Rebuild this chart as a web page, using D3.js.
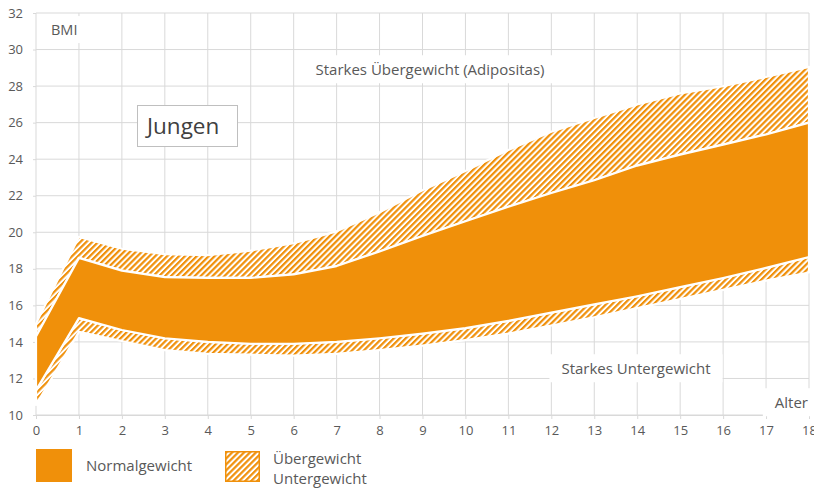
<!DOCTYPE html>
<html>
<head>
<meta charset="utf-8">
<script src="https://cdn.jsdelivr.net/npm/d3@7"></script>
<style>
  body { margin: 0; background: #fff; }
  svg { display: block; }
  text { font-family: 'Open Sans', 'Noto Sans', sans-serif; fill: #595959; }
</style>
</head>
<body>
<svg id="chart" width="814" height="488"></svg>
<script>
// BMI Perzentilen, Jungen 0-18 Jahre
const ages = [0, 1, 2, 3, 4, 5, 6, 7, 8, 9, 10, 11, 12, 13, 14, 15, 16, 17, 18];
const p3 = [10.55, 14.55, 14.05, 13.55, 13.35, 13.3, 13.25, 13.35, 13.55, 13.8, 14.1, 14.45, 14.9, 15.35, 15.85, 16.35, 16.85, 17.35, 17.8];
const p10 = [11.35, 15.3, 14.65, 14.2, 14.0, 13.9, 13.9, 14.0, 14.2, 14.45, 14.75, 15.15, 15.6, 16.05, 16.5, 17.0, 17.5, 18.05, 18.65];
const p90 = [14.3, 18.6, 17.9, 17.55, 17.5, 17.5, 17.7, 18.15, 18.95, 19.8, 20.6, 21.4, 22.15, 22.85, 23.65, 24.25, 24.8, 25.35, 26.0];
const p97 = [15.0, 19.75, 19.1, 18.8, 18.75, 19.0, 19.4, 20.05, 21.1, 22.3, 23.35, 24.5, 25.5, 26.25, 27.0, 27.6, 28.0, 28.5, 29.05];
const yTicks = [10, 12, 14, 16, 18, 20, 22, 24, 26, 28, 30, 32];

const orange = '#f0900a';
const grid = '#d9d9d9';

const svg = d3.select('#chart');
const x = d3.scaleLinear().domain([0, 18]).range([36, 809]);
const y = d3.scaleLinear().domain([10, 32]).range([415, 13]);

// hatch pattern
const hs = 4.2;
const defs = svg.append('defs');
const pat = defs.append('pattern')
  .attr('id', 'hatch')
  .attr('patternUnits', 'userSpaceOnUse')
  .attr('width', hs)
  .attr('height', hs)
  .attr('patternTransform', 'rotate(45)');
pat.append('rect').attr('width', hs).attr('height', hs).attr('fill', '#fff');
pat.append('line')
  .attr('x1', 1.1).attr('y1', 0).attr('x2', 1.1).attr('y2', hs)
  .attr('stroke', orange).attr('stroke-width', 2.2);

// gridlines
const gGrid = svg.append('g');
gGrid.selectAll('line.v')
  .data(ages)
  .join('line')
  .attr('class', 'v')
  .attr('x1', (d) => x(d)).attr('x2', (d) => x(d))
  .attr('y1', y(32)).attr('y2', y(10))
  .attr('stroke', grid);
gGrid.selectAll('line.h')
  .data(yTicks)
  .join('line')
  .attr('class', 'h')
  .attr('x1', x(0)).attr('x2', x(18))
  .attr('y1', (d) => y(d)).attr('y2', (d) => y(d))
  .attr('stroke', grid);

// axes
const xAxis = svg.append('g')
  .attr('transform', `translate(0,${y(10)})`)
  .call(d3.axisBottom(x).tickValues(ages).tickSize(4).tickPadding(7));
const yAxis = svg.append('g')
  .attr('transform', `translate(${x(0)},0)`)
  .call(d3.axisLeft(y).tickValues(yTicks).tickSize(3).tickPadding(10));
[xAxis, yAxis].forEach((a) => {
  a.select('.domain').attr('stroke', grid);
  a.selectAll('.tick line').attr('stroke', grid);
  a.selectAll('.tick text')
    .attr('fill', '#595959')
    .style('font-size', '13px')
    .style('font-family', "'Open Sans', sans-serif");
});
yAxis.select('.domain').remove();

// bands
const band = (lo, hi) =>
  d3.area()
    .x((d, i) => x(ages[i]))
    .y0((d, i) => y(lo[i]))
    .y1((d, i) => y(hi[i]));

const bands = [
  { lo: p3, hi: p10, fill: 'url(#hatch)' },
  { lo: p90, hi: p97, fill: 'url(#hatch)' },
  { lo: p10, hi: p90, fill: orange },
];
bands.forEach((b) => {
  svg.append('path')
    .datum(ages)
    .attr('d', band(b.lo, b.hi))
    .attr('fill', b.fill)
    .attr('stroke', '#fff')
    .attr('stroke-width', 2.2)
    .attr('stroke-linejoin', 'round');
});

// labels with white background
function boxLabel(txt, cx, cy, anchor, size) {
  const g = svg.append('g');
  const t = g.append('text')
    .attr('x', cx).attr('y', cy)
    .attr('dy', '0.35em')
    .attr('text-anchor', anchor)
    .style('font-size', size + 'px')
    .text(txt);
  const bb = t.node().getBBox();
  g.insert('rect', 'text')
    .attr('x', bb.x - 12).attr('y', bb.y - 4)
    .attr('width', bb.width + 24).attr('height', bb.height + 8)
    .attr('fill', '#fff');
}
boxLabel('BMI', 51, 30, 'start', 14.5);
boxLabel('Starkes Übergewicht (Adipositas)', 430, 70, 'middle', 15);
boxLabel('Starkes Untergewicht', 636, 369, 'middle', 15);
boxLabel('Alter', 808, 403, 'end', 15);

// Jungen box
svg.append('rect')
  .attr('x', 137.5).attr('y', 105.5)
  .attr('width', 100).attr('height', 41)
  .attr('fill', '#fff').attr('stroke', '#bfbfbf');
svg.append('text')
  .attr('x', 147).attr('y', 126).attr('dy', '0.35em')
  .style('font-size', '22.5px').style('fill', '#404040')
  .text('Jungen');

// legend
svg.append('rect')
  .attr('x', 36).attr('y', 449).attr('width', 36).attr('height', 33)
  .attr('fill', orange);
svg.append('text')
  .attr('x', 86).attr('y', 466).attr('dy', '0.35em')
  .style('font-size', '15px')
  .text('Normalgewicht');
svg.append('rect')
  .attr('x', 225.75).attr('y', 451.75).attr('width', 33.5).attr('height', 29.5)
  .attr('fill', 'url(#hatch)').attr('stroke', orange).attr('stroke-width', 1.5);
svg.append('text')
  .attr('x', 273).attr('y', 459).attr('dy', '0.35em')
  .style('font-size', '15px')
  .text('Übergewicht');
svg.append('text')
  .attr('x', 273).attr('y', 479).attr('dy', '0.35em')
  .style('font-size', '15px')
  .text('Untergewicht');
</script>
</body>
</html>
